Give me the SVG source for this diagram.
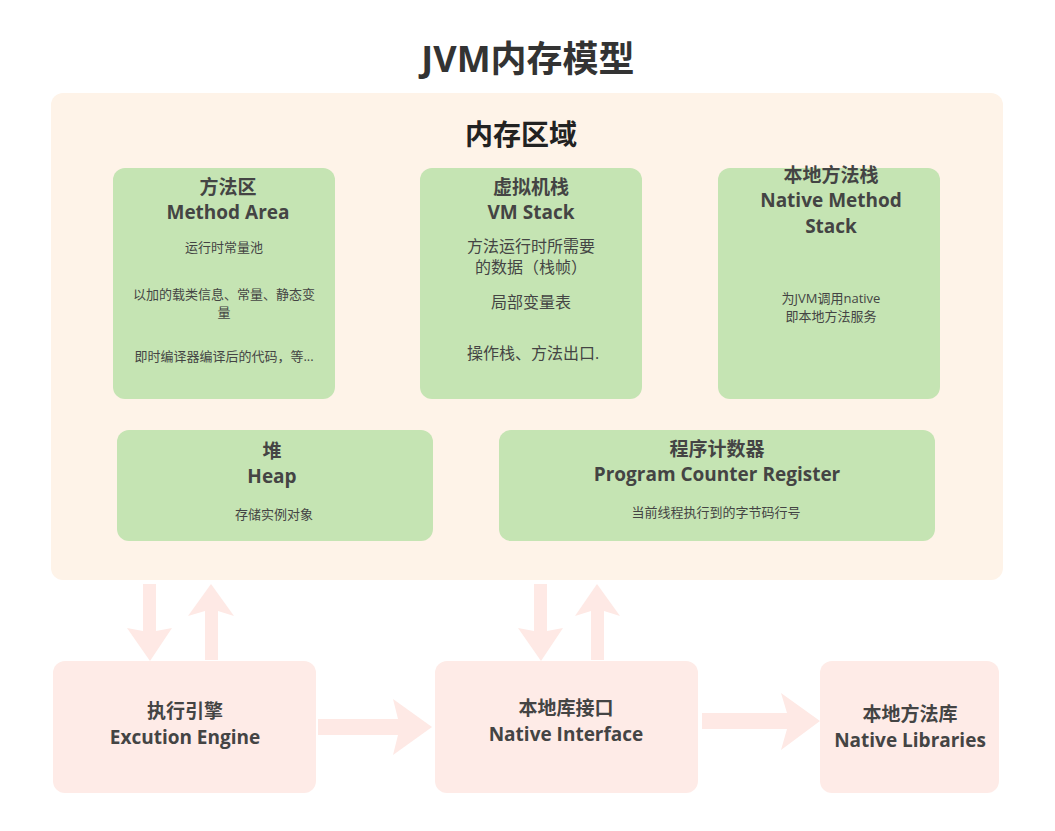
<svg xmlns="http://www.w3.org/2000/svg" width="1055" height="831" viewBox="0 0 1055 831">
<style>
text{font-family:"Open Sans","Noto Sans CJK SC",sans-serif;text-anchor:middle}
.h1{font-size:36px;font-weight:bold;fill:#333}
.h2{font-size:28px;font-weight:bold;fill:#222}
.t{font-size:19px;font-weight:bold;fill:#444}
.b{font-size:13px;fill:#444}
.b2{font-size:16px;fill:#444}
.g{fill:#c5e4b3}
.p{fill:#feebe7}
.a{fill:#fee9e5}
</style>
<rect width="1055" height="831" fill="#fff"/>
<text class="h1" x="528" y="72">JVM内存模型</text>
<g id="memory">
<rect x="51" y="93" width="952" height="487" rx="12" fill="#fef3e8"/>
<text class="h2" x="521" y="145">内存区域</text>
</g>
<g id="method-area">
<rect class="g" x="113" y="168" width="222" height="231" rx="12"/>
<text class="t" x="228" y="194">方法区</text>
<text class="t" x="228" y="219">Method Area</text>
<text class="b" x="224" y="252">运行时常量池</text>
<text class="b" x="224" y="299">以加的载类信息、常量、静态变</text>
<text class="b" x="224" y="317">量</text>
<text class="b" x="224" y="361">即时编译器编译后的代码，等...</text>
</g>
<g id="vm-stack">
<rect class="g" x="420" y="168" width="222" height="231" rx="12"/>
<text class="t" x="531" y="194">虚拟机栈</text>
<text class="t" x="531" y="219">VM Stack</text>
<text class="b2" x="531" y="252">方法运行时所需要</text>
<text class="b2" x="531" y="273">的数据（栈帧）</text>
<text class="b2" x="531" y="308">局部变量表</text>
<text class="b2" x="533" y="359">操作栈、方法出口.</text>
</g>
<g id="native-method-stack">
<rect class="g" x="718" y="168" width="222" height="231" rx="12"/>
<text class="t" x="831" y="182">本地方法栈</text>
<text class="t" x="831" y="207">Native Method</text>
<text class="t" x="831" y="233">Stack</text>
<text class="b" x="831" y="303">为JVM调用native</text>
<text class="b" x="831" y="321">即本地方法服务</text>
</g>
<g id="heap">
<rect class="g" x="117" y="430" width="316" height="111" rx="12"/>
<text class="t" x="272" y="458">堆</text>
<text class="t" x="272" y="483">Heap</text>
<text class="b" x="274" y="519">存储实例对象</text>
</g>
<g id="pc-register">
<rect class="g" x="499" y="430" width="436" height="111" rx="12"/>
<text class="t" x="717" y="456">程序计数器</text>
<text class="t" x="717" y="481">Program Counter Register</text>
<text class="b" x="716" y="517">当前线程执行到的字节码行号</text>
</g>
<g id="execution-engine">
<rect class="p" x="53" y="661" width="263" height="132" rx="12"/>
<text class="t" x="185" y="718">执行引擎</text>
<text class="t" x="185" y="744">Excution Engine</text>
</g>
<g id="native-interface">
<rect class="p" x="435" y="661" width="263" height="132" rx="12"/>
<text class="t" x="566" y="715">本地库接口</text>
<text class="t" x="566" y="741">Native Interface</text>
</g>
<g id="native-libraries">
<rect class="p" x="820" y="661" width="179" height="132" rx="12"/>
<text class="t" x="910" y="721">本地方法库</text>
<text class="t" x="910" y="747">Native Libraries</text>
</g>
<g id="connectors">
<polygon class="a" points="143,584 156,584 156,631 172,628 150,661 127,628 143,631"/>
<polygon class="a" points="211,584 234,616 218,611 218,660 205,660 205,611 188,616"/>
<polygon class="a" points="534,584 547,584 547,631 563,628 541,661 518,628 534,631"/>
<polygon class="a" points="597,584 620,616 604,611 604,660 591,660 591,611 575,616"/>
<polygon class="a" points="318,719 398,719 393,699 432,727 393,755 398,735 318,735"/>
<polygon class="a" points="702,713 787,713 781,693 820,721 781,750 787,729 702,729"/>
</g>
</svg>
